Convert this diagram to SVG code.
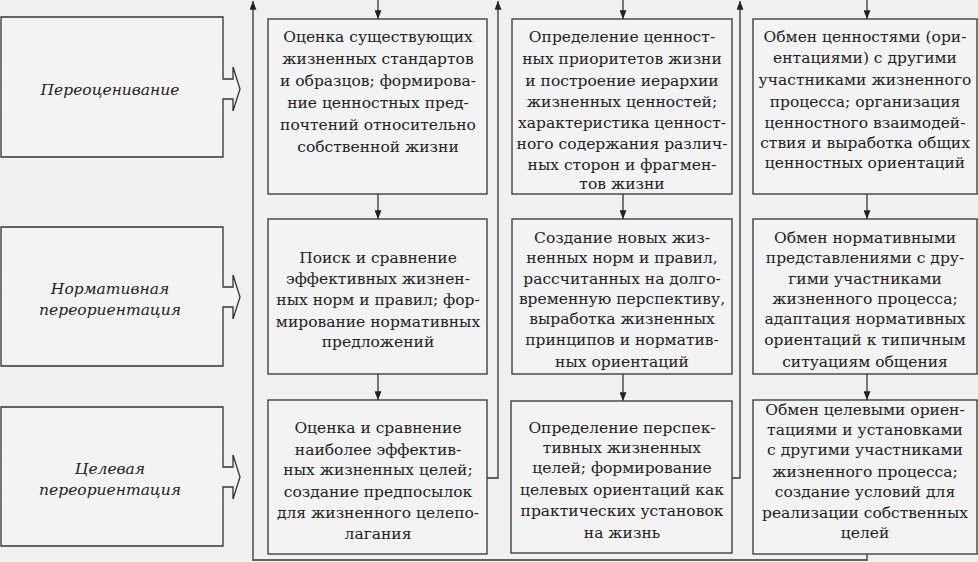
<svg xmlns="http://www.w3.org/2000/svg" width="978" height="562" viewBox="0 0 978 562">
<defs>
<marker id="ah" viewBox="0 0 10 8" refX="10" refY="4" markerWidth="9" markerHeight="7" markerUnits="userSpaceOnUse" orient="auto">
<path d="M0,0 L10,4 L0,8 z" fill="#222"/>
</marker>
</defs>
<style>
.bg{fill:#f0f0f0}
.box{fill:#f3f3f3;stroke:#333;stroke-width:1.3}
.lbl{fill:#f3f3f3;stroke:#333;stroke-width:1.3}
.t{font-family:'DejaVu Serif',serif;font-size:15.5px;fill:#222;text-anchor:middle}
.it{font-family:'DejaVu Serif',serif;font-size:15.5px;font-style:italic;fill:#222;text-anchor:middle}
.c{fill:none;stroke:#333;stroke-width:1.3}
.a{marker-end:url(#ah)}
</style>
<rect class="bg" x="0" y="0" width="978" height="562"/>

<g id="stage1">
<path class="lbl" d="M1,17 H223 V79 H233 V67 L240,89 L233,111 V99 H223 V157 H1 Z"/>
<text class="it" x="110" y="95">Переоценивание</text>
</g>
<g id="stage2">
<path class="lbl" d="M1,227 H223 V287 H233 V275 L240,297 L233,319 V307 H223 V366 H1 Z"/>
<text class="it" x="110" y="294">Нормативная</text>
<text class="it" x="110" y="315">переориентация</text>
</g>
<g id="stage3">
<path class="lbl" d="M1,407 H223 V467 H233 V455 L240,477 L233,499 V487 H223 V546 H1 Z"/>
<text class="it" x="110" y="474">Целевая</text>
<text class="it" x="110" y="495">переориентация</text>
</g>

<g id="connectors">
<line class="c a" x1="378" y1="0" x2="378" y2="19"/>
<line class="c a" x1="378" y1="194" x2="378" y2="219"/>
<line class="c a" x1="378" y1="374" x2="378" y2="400"/>
<line class="c a" x1="623" y1="0" x2="623" y2="19"/>
<line class="c a" x1="623" y1="194" x2="623" y2="219"/>
<line class="c a" x1="623" y1="374" x2="623" y2="401"/>
<line class="c a" x1="867" y1="0" x2="867" y2="19"/>
<line class="c a" x1="867" y1="194" x2="867" y2="219"/>
<line class="c a" x1="867" y1="374" x2="867" y2="400"/>
<polyline class="c a" points="867,554 867,560 253,560 253,1"/>
<polyline class="c a" points="487,478 498,478 498,1"/>
<polyline class="c a" points="732,478 740,478 740,1"/>
</g>

<g id="c1r1">
<rect class="box" x="268" y="19" width="219" height="175"/>
<text class="t" x="378" y="42">Оценка существующих</text>
<text class="t" x="378" y="64">жизненных стандартов</text>
<text class="t" x="378" y="86">и образцов; формирова-</text>
<text class="t" x="378" y="108">ние ценностных пред-</text>
<text class="t" x="378" y="130">почтений относительно</text>
<text class="t" x="378" y="152">собственной жизни</text>
</g>
<g id="c1r2">
<rect class="box" x="268" y="219" width="219" height="155"/>
<text class="t" x="378" y="263">Поиск и сравнение</text>
<text class="t" x="378" y="284">эффективных жизнен-</text>
<text class="t" x="378" y="305">ных норм и правил; фор-</text>
<text class="t" x="378" y="327">мирование нормативных</text>
<text class="t" x="378" y="347">предложений</text>
</g>
<g id="c1r3">
<rect class="box" x="268" y="400" width="219" height="154"/>
<text class="t" x="378" y="433">Оценка и сравнение</text>
<text class="t" x="378" y="455">наиболее эффектив-</text>
<text class="t" x="378" y="475">ных жизненных целей;</text>
<text class="t" x="378" y="497">создание предпосылок</text>
<text class="t" x="378" y="518">для жизненного целепо-</text>
<text class="t" x="378" y="539">лагания</text>
</g>

<g id="c2r1">
<rect class="box" x="512" y="19" width="220" height="175"/>
<text class="t" x="622" y="42">Определение ценност-</text>
<text class="t" x="622" y="64">ных приоритетов жизни</text>
<text class="t" x="622" y="86">и построение иерархии</text>
<text class="t" x="622" y="107">жизненных ценностей;</text>
<text class="t" x="622" y="128">характеристика ценност-</text>
<text class="t" x="622" y="149">ного содержания различ-</text>
<text class="t" x="622" y="170">ных сторон и фрагмен-</text>
<text class="t" x="622" y="189">тов жизни</text>
</g>
<g id="c2r2">
<rect class="box" x="512" y="219" width="220" height="155"/>
<text class="t" x="622" y="243">Создание новых жиз-</text>
<text class="t" x="622" y="263">ненных норм и правил,</text>
<text class="t" x="622" y="284">рассчитанных на долго-</text>
<text class="t" x="622" y="304">временную перспективу,</text>
<text class="t" x="622" y="324">выработка жизненных</text>
<text class="t" x="622" y="345">принципов и норматив-</text>
<text class="t" x="622" y="367">ных ориентаций</text>
</g>
<g id="c2r3">
<rect class="box" x="511" y="401" width="221" height="152"/>
<text class="t" x="622" y="433">Определение перспек-</text>
<text class="t" x="622" y="453">тивных жизненных</text>
<text class="t" x="622" y="473">целей; формирование</text>
<text class="t" x="622" y="495">целевых ориентаций как</text>
<text class="t" x="622" y="516">практических установок</text>
<text class="t" x="622" y="538">на жизнь</text>
</g>

<g id="c3r1">
<rect class="box" x="753" y="19" width="224" height="175"/>
<text class="t" x="865" y="42">Обмен ценностями (ори-</text>
<text class="t" x="865" y="63">ентациями) с другими</text>
<text class="t" x="865" y="85">участниками жизненного</text>
<text class="t" x="865" y="107">процесса; организация</text>
<text class="t" x="865" y="128">ценностного взаимодей-</text>
<text class="t" x="865" y="148">ствия и выработка общих</text>
<text class="t" x="865" y="168">ценностных ориентаций</text>
</g>
<g id="c3r2">
<rect class="box" x="753" y="219" width="224" height="155"/>
<text class="t" x="865" y="243">Обмен нормативными</text>
<text class="t" x="865" y="263">представлениями с дру-</text>
<text class="t" x="865" y="284">гими участниками</text>
<text class="t" x="865" y="304">жизненного процесса;</text>
<text class="t" x="865" y="324">адаптация нормативных</text>
<text class="t" x="865" y="345">ориентаций к типичным</text>
<text class="t" x="865" y="367">ситуациям общения</text>
</g>
<g id="c3r3">
<rect class="box" x="753" y="400" width="224" height="154"/>
<text class="t" x="865" y="415">Обмен целевыми ориен-</text>
<text class="t" x="865" y="435">тациями и установками</text>
<text class="t" x="865" y="455">с другими участниками</text>
<text class="t" x="865" y="477">жизненного процесса;</text>
<text class="t" x="865" y="497">создание условий для</text>
<text class="t" x="865" y="518">реализации собственных</text>
<text class="t" x="865" y="538">целей</text>
</g>
</svg>
